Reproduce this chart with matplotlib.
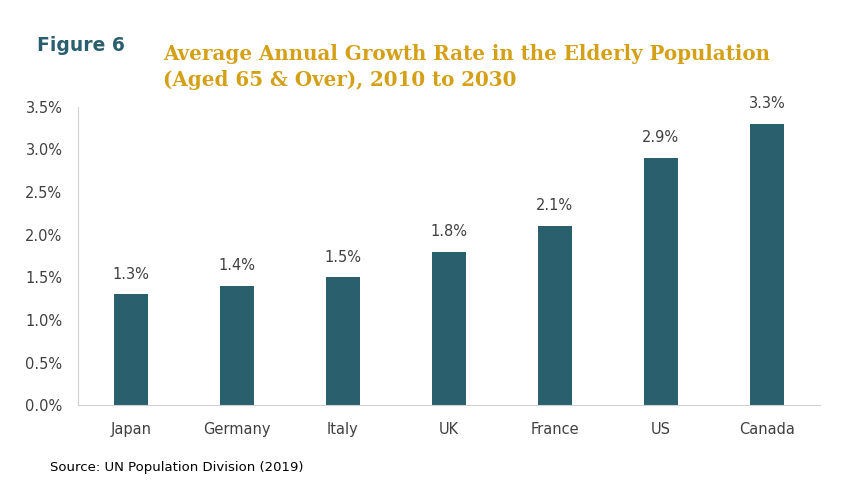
import numpy as np
import matplotlib.pyplot as plt
from matplotlib.ticker import FuncFormatter

countries = ["Japan", "Germany", "Italy", "UK", "France", "US", "Canada"]
growth = [1.3, 1.4, 1.5, 1.8, 2.1, 2.9, 3.3]
yticks = [0.0, 0.5, 1.0, 1.5, 2.0, 2.5, 3.0, 3.5]

bar_color = "#2A5F6E"
text_color = "#404040"

fig = plt.figure(figsize=(8.64, 5.04), dpi=100)
ax = fig.add_axes([0.090, 0.196, 0.859, 0.592])

x = np.arange(len(countries))
bars = ax.bar(x, growth, width=0.32, color=bar_color)
for b, v in zip(bars, growth):
    ax.text(b.get_x() + b.get_width() / 2, v + 0.15, f"{v:.1f}%",
            ha="center", va="bottom", fontsize=10.5, color=text_color)

ax.set_xlim(-0.5, len(countries) - 0.5)
ax.set_ylim(0, 3.5)
ax.set_yticks(yticks)
ax.yaxis.set_major_formatter(FuncFormatter(lambda v, p: f"{v:.1f}%"))
ax.set_xticks(x)
ax.set_xticklabels(countries)
ax.tick_params(axis="both", length=0, labelsize=10.5, colors=text_color)
ax.tick_params(axis="x", pad=12)
ax.tick_params(axis="y", pad=11)

for s in ["top", "right"]:
    ax.spines[s].set_visible(False)
for s in ["left", "bottom"]:
    ax.spines[s].set_color("#D0D0D0")

fig.text(0.043, 0.91, "Figure 6", fontsize=13.5, fontweight="bold",
         color="#2A5F6E", ha="left", va="center")
fig.text(0.189, 0.867, "Average Annual Growth Rate in the Elderly Population\n(Aged 65 & Over), 2010 to 2030",
         fontsize=14.3, fontweight="bold", color="#D4A017", family="DejaVu Serif",
         ha="left", va="center", linespacing=1.4)
fig.text(0.058, 0.073, "Source: UN Population Division (2019)", fontsize=9.5,
         color="black", ha="left", va="center")

fig.savefig("out.png", dpi=100)
